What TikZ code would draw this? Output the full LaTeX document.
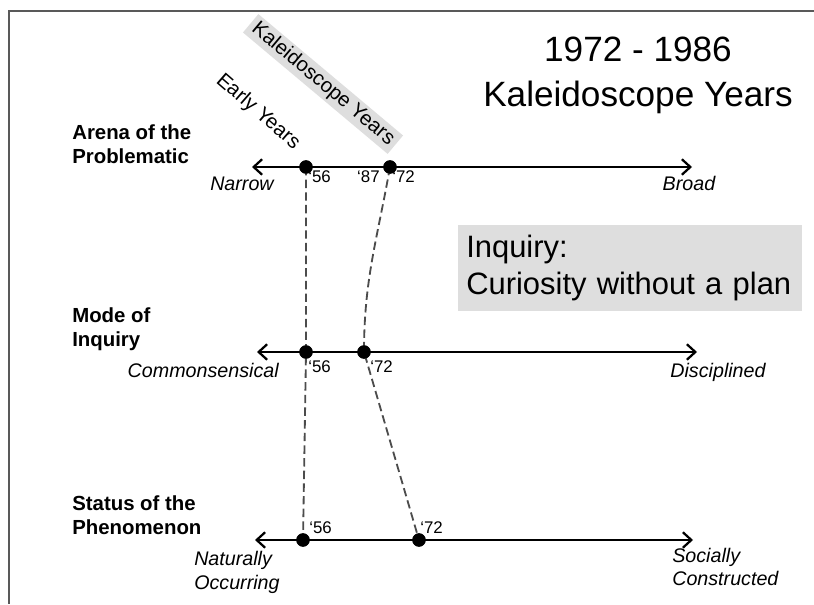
\documentclass[tikz,border=0pt]{standalone}
\usepackage{fontspec}
\setmainfont{Liberation Sans}
\usetikzlibrary{arrows.meta}
\begin{document}
\begin{tikzpicture}[x=0.025cm, y=0.025cm,
	axis/.style={line width=1.6pt, {Straight Barb[length=6pt,width=11pt]}-{Straight Barb[length=6pt,width=11pt]}},
	dot/.style={circle, fill, inner sep=0pt, minimum size=9.5pt},
	yr/.style={font=\fontsize{12}{14}\selectfont, inner sep=0pt},
	dim/.style={font=\fontsize{14.5}{17}\selectfont\bfseries, align=left, inner sep=0pt},
	pole/.style={font=\fontsize{14}{17}\selectfont\itshape, inner sep=0pt},
	era/.style={font=\fontsize{14.5}{17}\selectfont, inner sep=0pt},
	trace/.style={dash pattern=on 6pt off 3pt, line width=1.3pt, black!70}]
	\useasboundingbox (0,0) rectangle (814,604);
	\draw[black!65, line width=1.5pt] (814,593) -- (9,593) -- (9,0);
	\node[align=center, font=\fontsize{25}{32}\selectfont] (title) at (638,529) {1972 - 1986\\Kaleidoscope Years};
	\node[anchor=north west, fill=black!13, minimum width=8.6cm, minimum height=2.15cm, inner xsep=0.2cm, text width=8.2cm, align=left, font=\fontsize{22}{26.3}\selectfont] (inquiry) at (458,379) {Inquiry:\\Curiosity without a plan};
	\node[era, rotate=-41] (early) at (258,492) {Early Years};
	\node[era, rotate=-40, fill=black!13, minimum width=4.72cm, minimum height=0.6cm] (kaleido) at (323,520) {Kaleidoscope Years};
	\node[dim, anchor=west] (arena) at (72,460) {Arena of the\\Problematic};
	\node[dim, anchor=west] (mode) at (72,275) {Mode of\\Inquiry};
	\node[dim, anchor=west] (status) at (72,89) {Status of the\\Phenomenon};
	\coordinate (arena-l) at (252,437);
	\coordinate (arena-r) at (692,437);
	\coordinate (mode-l) at (257,252);
	\coordinate (mode-r) at (697,252);
	\coordinate (status-l) at (255,64);
	\coordinate (status-r) at (693,64);
	\node[dot] (a56) at (306,437) {};
	\node[dot] (a72) at (390,437) {};
	\node[dot] (m56) at (306,252) {};
	\node[dot] (m72) at (364,252) {};
	\node[dot] (s56) at (303,64) {};
	\node[dot] (s72) at (419,64) {};
	\draw[trace] (a56.center) -- (m56.center) -- (s56.center);
	\draw[trace] (a72.center) to[out=-100,in=90] (m72.center) -- (s72.center);
	\draw[axis] (arena-l) -- (arena-r);
	\draw[axis] (mode-l) -- (mode-r);
	\draw[axis] (status-l) -- (status-r);
	\node[dot] at (a56) {};
	\node[dot] at (a72) {};
	\node[dot] at (m56) {};
	\node[dot] at (m72) {};
	\node[dot] at (s56) {};
	\node[dot] at (s72) {};
	\node[yr, anchor=west] (ya56) at (308,427) {‘56};
	\node[yr, anchor=east] (ya87) at (380,427) {‘87};
	\node[yr, anchor=west] (ya72) at (392,427) {‘72};
	\node[yr, anchor=west] (ym56) at (308,237) {‘56};
	\node[yr, anchor=west] (ym72) at (370,237) {‘72};
	\node[yr, anchor=west] (ys56) at (309,76) {‘56};
	\node[yr, anchor=west] (ys72) at (420,76) {‘72};
	\node[pole, anchor=east] (narrow) at (274,420) {Narrow};
	\node[pole] (broad) at (689,421) {Broad};
	\node[pole, anchor=east] (common) at (279,234) {Commonsensical};
	\node[pole] (disc) at (718,232) {Disciplined};
	\node[pole, anchor=west, align=left] (natural) at (194,32) {Naturally\\Occurring};
	\node[pole, anchor=west, align=left] (social) at (672,37) {Socially\\Constructed};
\end{tikzpicture}
\end{document}
